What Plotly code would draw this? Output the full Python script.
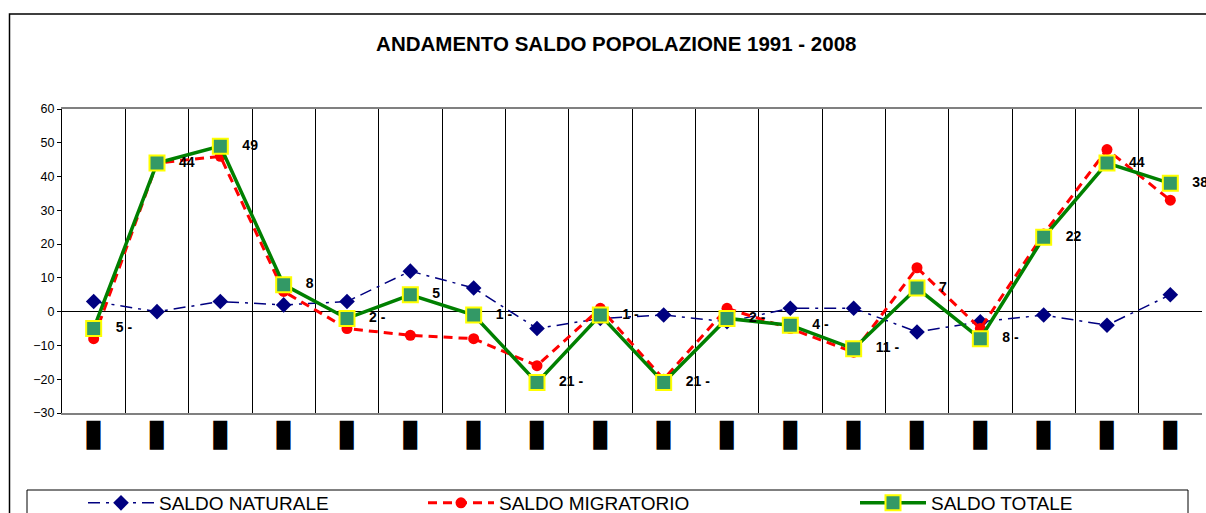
import plotly.graph_objects as go

years = [str(y) for y in range(1991, 2009)]
tick_labels = ["▮"] * len(years)
saldo_naturale = [3, 0, 3, 2, 3, 12, 7, -5, -2, -1, -3, 1, 1, -6, -3, -1, -4, 5]
saldo_migratorio = [-8, 44, 46, 6, -5, -7, -8, -16, 1, -20, 1, -5, -12, 13, -5, 23, 48, 33]
saldo_totale = [-5, 44, 49, 8, -2, 5, -1, -21, -1, -21, -2, -4, -11, 7, -8, 22, 44, 38]
series_names = ["SALDO NATURALE", "SALDO MIGRATORIO", "SALDO TOTALE"]
title_text = "ANDAMENTO SALDO POPOLAZIONE 1991 - 2008"


def fmt(v):
    s = str(abs(v))
    if v < 0:
        s += " -"
    return "   " + s


FONT = "Arial, 'Liberation Sans', sans-serif"

fig = go.Figure()
fig.add_trace(go.Scatter(
    x=years, y=saldo_naturale, name=series_names[0], mode="lines+markers",
    line=dict(color="#000080", width=1.5, dash="12px,6px,3px,6px"),
    marker=dict(symbol="diamond", size=12, color="#000080"),
    legend="legend",
))
fig.add_trace(go.Scatter(
    x=years, y=saldo_migratorio, name=series_names[1], mode="lines+markers",
    line=dict(color="#FF0000", width=3, dash="9px,6px"),
    marker=dict(symbol="circle", size=11, color="#FF0000"),
    legend="legend2",
))
fig.add_trace(go.Scatter(
    x=years, y=saldo_totale, name=series_names[2], mode="lines+markers+text",
    line=dict(color="#008000", width=3.5),
    marker=dict(symbol="square", size=15, color="#339966",
                line=dict(color="#FFFF00", width=2)),
    text=[fmt(v) for v in saldo_totale], textposition="middle right",
    textfont=dict(family=FONT, size=14, color="black", weight="bold"),
    cliponaxis=False,
    legend="legend3",
))

W, H = 1206, 513
ml, mr, mt, mb = 62, 4, 109, 100
pw, ph = W - ml - mr, H - mt - mb


def px2x(px):
    return (px - ml) / pw


def py2y(py):
    return (H - mb - py) / ph


leg_common = dict(orientation="h", itemwidth=66, bgcolor="rgba(0,0,0,0)",
                  font=dict(family=FONT, size=19, color="black"),
                  xref="container", yref="container",
                  yanchor="middle", xanchor="left", y=1 - 503 / H)

fig.update_layout(
    width=W, height=H,
    margin=dict(l=ml, r=mr, t=mt, b=mb, autoexpand=False),
    paper_bgcolor="white", plot_bgcolor="white",
    title=dict(text="<b>" + title_text + "</b>", x=0.511, xanchor="center",
               y=1 - 44 / H, yanchor="middle",
               font=dict(family=FONT, size=20.5, color="black")),
    font=dict(family=FONT, color="black"),
    xaxis=dict(type="category", tickmode="array", tickvals=years, ticktext=tick_labels,
               tickson="boundaries", showgrid=True, gridcolor="black", gridwidth=1,
               ticks="", showline=True, linecolor="#808080", linewidth=2, mirror=True,
               tickfont=dict(family="DejaVu Sans", size=38, color="black"),
               ticklabelstandoff=-16,
               range=[-0.5, 17.5], fixedrange=True),
    yaxis=dict(range=[-30, 60], dtick=10, tick0=0, showgrid=False,
               zeroline=True, zerolinecolor="black", zerolinewidth=1,
               showline=True, linecolor="black", linewidth=1, ticks="outside",
               ticklen=4, tickcolor="black",
               tickfont=dict(family=FONT, size=12.5, color="black")),
    showlegend=True,
    legend=dict(x=83 / W, **leg_common),
    legend2=dict(x=423 / W, **leg_common),
    legend3=dict(x=855 / W, **leg_common),
    shapes=[
        dict(type="rect", xref="paper", yref="paper", layer="below",
             x0=px2x(9.5), x1=px2x(1215), y0=py2y(530), y1=py2y(14),
             line=dict(color="black", width=1.5), fillcolor="rgba(0,0,0,0)"),
        dict(type="rect", xref="paper", yref="paper", layer="below",
             x0=px2x(27), x1=px2x(1188), y0=py2y(530), y1=py2y(490),
             line=dict(color="black", width=1), fillcolor="rgba(0,0,0,0)"),
    ],
)

fig.write_html("out.html", config={"displayModeBar": False},
               post_script="document.body.style.margin='0';document.body.style.overflow='hidden';")
